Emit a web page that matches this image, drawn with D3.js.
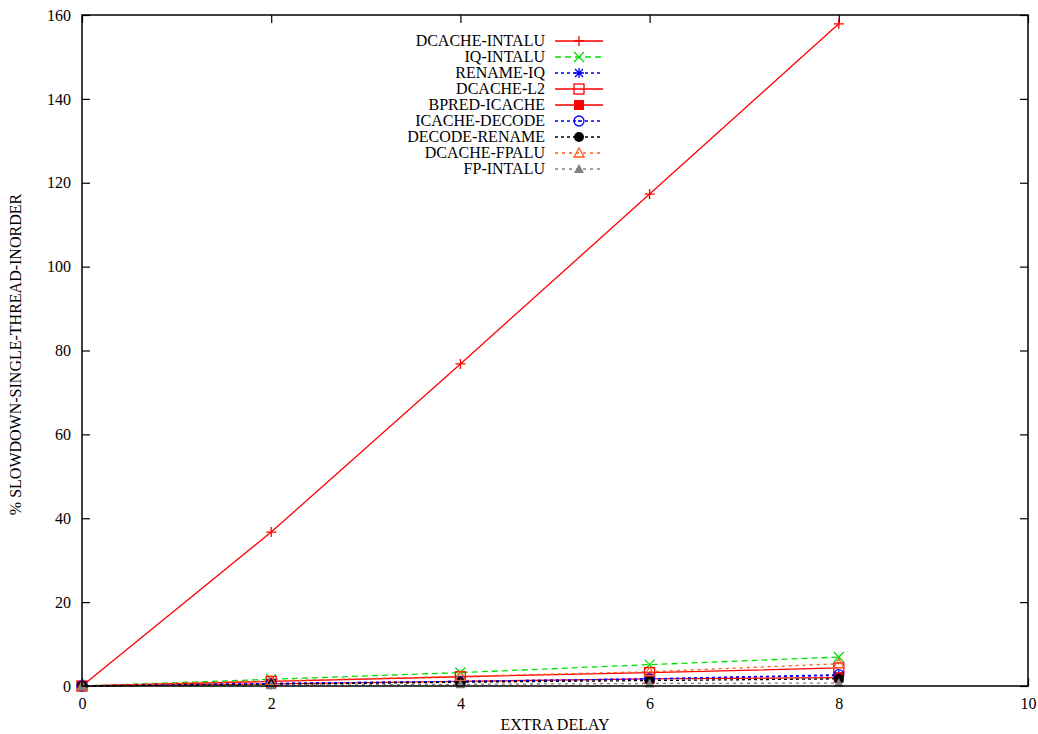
<!DOCTYPE html>
<html>
<head>
<meta charset="utf-8">
<script src="https://cdn.jsdelivr.net/npm/d3@7"></script>
<style>
  body { margin: 0; background: #fff; }
  text { font-family: "Liberation Serif", "DejaVu Serif", serif; fill: #000; }
</style>
</head>
<body>
<svg id="chart" width="1038" height="734"></svg>
<script>
// ---- data ----
const delays = [0, 2, 4, 6, 8];
const xTicks = [0, 2, 4, 6, 8, 10];
const yTicks = [0, 20, 40, 60, 80, 100, 120, 140, 160];

const dcacheIntalu = [0, 36.7, 76.8, 117.3, 157.9];
const iqIntalu     = [0, 1.6, 3.2, 5.1, 6.9];
const renameIq     = [0, 0.6, 1.1, 1.7, 2.5];
const dcacheL2     = [0, 1.1, 2.2, 3.2, 4.3];
const bpredIcache  = [0, 0.5, 1.1, 1.7, 2.0];
const icacheDecode = [0, 0.6, 1.1, 1.7, 2.7];
const decodeRename = [0, 0.4, 0.9, 1.3, 1.7];
const dcacheFpalu  = [0, 1.2, 2.3, 3.4, 5.3];
const fpIntalu     = [0, 0.2, 0.4, 0.6, 0.7];

// series description (name, values, color, dash, marker)
const series = [
    { name: "DCACHE-INTALU", values: dcacheIntalu, color: "#ff0000", dash: null,  marker: "plus" },
    { name: "IQ-INTALU",     values: iqIntalu,     color: "#00e000", dash: "6,4", marker: "cross" },
    { name: "RENAME-IQ",     values: renameIq,     color: "#0000ff", dash: "3,3", marker: "star" },
    { name: "DCACHE-L2",     values: dcacheL2,     color: "#ff0000", dash: null,  marker: "square" },
    { name: "BPRED-ICACHE",  values: bpredIcache,  color: "#ff0000", dash: null,  marker: "fsquare" },
    { name: "ICACHE-DECODE", values: icacheDecode, color: "#0000ff", dash: "3,3", marker: "circle" },
    { name: "DECODE-RENAME", values: decodeRename, color: "#000000", dash: "3,3", marker: "fcircle" },
    { name: "DCACHE-FPALU",  values: dcacheFpalu,  color: "#ff5a1e", dash: "3,4", marker: "triangle" },
    { name: "FP-INTALU",     values: fpIntalu,     color: "#808080", dash: "3,4", marker: "ftriangle" }
];

const svg = d3.select("#chart");
const plotLeft = 82, plotRight = 1028, plotTop = 15, plotBottom = 686;

const x = d3.scaleLinear().domain([0, 10]).range([plotLeft, plotRight]);
const y = d3.scaleLinear().domain([0, 160]).range([plotBottom, plotTop]);

// ---- axes (gnuplot style, ticks inward, mirrored) ----
const tickLen = 8;
svg.append("g")
    .attr("transform", "translate(0," + plotBottom + ")")
    .call(d3.axisBottom(x).tickValues(xTicks).tickSize(-tickLen).tickPadding(12).tickFormat(d3.format("d")))
    .call(g => g.select(".domain").remove())
    .call(g => g.selectAll("text").attr("font-size", 16).attr("font-family", "Liberation Serif"));
svg.append("g")
    .attr("transform", "translate(0," + plotTop + ")")
    .call(d3.axisTop(x).tickValues(xTicks).tickSize(-tickLen).tickFormat(""))
    .call(g => g.select(".domain").remove());
svg.append("g")
    .attr("transform", "translate(" + plotLeft + ",0)")
    .call(d3.axisLeft(y).tickValues(yTicks).tickSize(-tickLen).tickPadding(11).tickFormat(d3.format("d")))
    .call(g => g.select(".domain").remove())
    .call(g => g.selectAll("text").attr("font-size", 16).attr("font-family", "Liberation Serif"));
svg.append("g")
    .attr("transform", "translate(" + plotRight + ",0)")
    .call(d3.axisRight(y).tickValues(yTicks).tickSize(-tickLen).tickFormat(""))
    .call(g => g.select(".domain").remove());
svg.selectAll(".tick line").attr("stroke", "#000").attr("stroke-width", 1.2);

// ---- series lines ----
const line = d3.line()
    .x((d, i) => x(delays[i]))
    .y(d => y(d));

series.forEach(function (s) {
    svg.append("path")
        .datum(s.values)
        .attr("fill", "none")
        .attr("stroke", s.color)
        .attr("stroke-width", 1.3)
        .attr("stroke-dasharray", s.dash)
        .attr("d", line);
});

// ---- markers ----
function drawMarker(g, type, cx, cy, color) {
    const r = 5;
    switch (type) {
        case "plus":
            g.append("path").attr("d", `M${cx - r},${cy}H${cx + r}M${cx},${cy - r}V${cy + r}`)
                .attr("stroke", color).attr("stroke-width", 1.3);
            break;
        case "cross":
            g.append("path").attr("d", `M${cx - r},${cy - r}L${cx + r},${cy + r}M${cx - r},${cy + r}L${cx + r},${cy - r}`)
                .attr("stroke", color).attr("stroke-width", 1.3);
            break;
        case "star":
            g.append("path").attr("d", `M${cx - r},${cy}H${cx + r}M${cx},${cy - r}V${cy + r}M${cx - 4},${cy - 4}L${cx + 4},${cy + 4}M${cx - 4},${cy + 4}L${cx + 4},${cy - 4}`)
                .attr("stroke", color).attr("stroke-width", 1.3);
            break;
        case "square":
            g.append("rect").attr("x", cx - r).attr("y", cy - r).attr("width", 2 * r).attr("height", 2 * r)
                .attr("fill", "none").attr("stroke", color).attr("stroke-width", 1.3);
            break;
        case "fsquare":
            g.append("rect").attr("x", cx - r).attr("y", cy - r).attr("width", 2 * r).attr("height", 2 * r)
                .attr("fill", color);
            break;
        case "circle":
            g.append("circle").attr("cx", cx).attr("cy", cy).attr("r", r)
                .attr("fill", "none").attr("stroke", color).attr("stroke-width", 1.3);
            g.append("circle").attr("cx", cx).attr("cy", cy).attr("r", 1).attr("fill", color);
            break;
        case "fcircle":
            g.append("circle").attr("cx", cx).attr("cy", cy).attr("r", r).attr("fill", color);
            break;
        case "triangle":
            g.append("path").attr("d", `M${cx},${cy - r}L${cx + r},${cy + 4}L${cx - r},${cy + 4}Z`)
                .attr("fill", "none").attr("stroke", color).attr("stroke-width", 1.3);
            break;
        case "ftriangle":
            g.append("path").attr("d", `M${cx},${cy - r}L${cx + r},${cy + 4}L${cx - r},${cy + 4}Z`)
                .attr("fill", color);
            break;
    }
}

series.forEach(function (s) {
    const g = svg.append("g");
    s.values.forEach(function (v, i) {
        drawMarker(g, s.marker, x(delays[i]), y(v), s.color);
    });
});

// ---- border ----
svg.append("rect")
    .attr("x", plotLeft).attr("y", plotTop)
    .attr("width", plotRight - plotLeft).attr("height", plotBottom - plotTop)
    .attr("fill", "none").attr("stroke", "#000").attr("stroke-width", 1.5);

// ---- legend ----
const legend = svg.append("g");
series.forEach(function (s, i) {
    const ly = 41 + i * 16;
    legend.append("text")
        .attr("x", 545).attr("y", ly + 5)
        .attr("text-anchor", "end")
        .attr("font-size", 16)
        .text(s.name);
    legend.append("line")
        .attr("x1", 555).attr("x2", 603).attr("y1", ly).attr("y2", ly)
        .attr("stroke", s.color).attr("stroke-width", 1.3)
        .attr("stroke-dasharray", s.dash);
    drawMarker(legend, s.marker, 579, ly, s.color);
});

// ---- axis titles ----
svg.append("text")
    .attr("x", (plotLeft + plotRight) / 2).attr("y", 730)
    .attr("text-anchor", "middle").attr("font-size", 16)
    .text("EXTRA DELAY");
svg.append("text")
    .attr("transform", "translate(21," + ((plotTop + plotBottom) / 2 + 4) + ") rotate(-90)")
    .attr("text-anchor", "middle").attr("font-size", 16)
    .text("% SLOWDOWN-SINGLE-THREAD-INORDER");
</script>
</body>
</html>
